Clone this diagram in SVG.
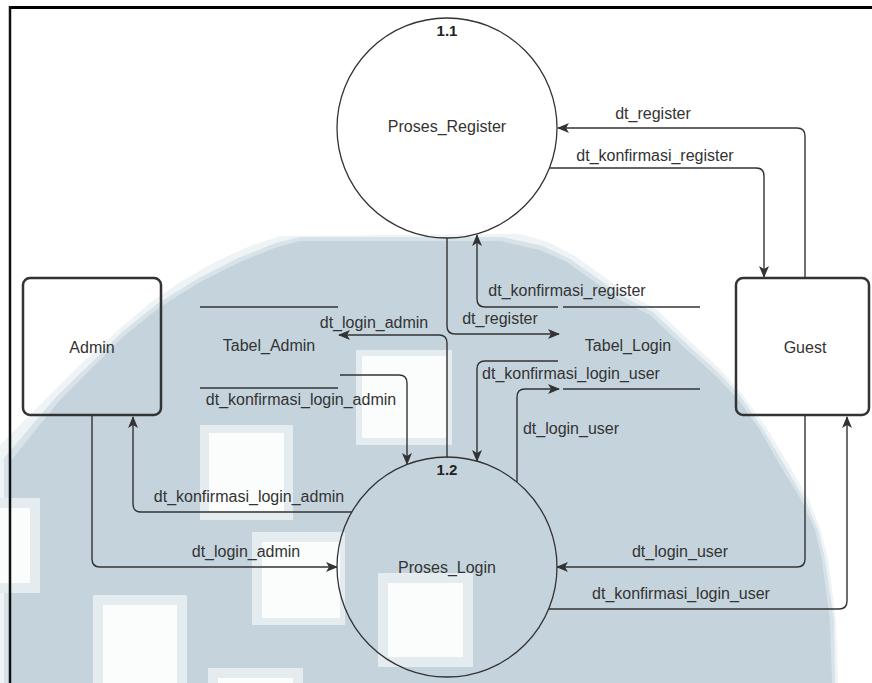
<svg xmlns="http://www.w3.org/2000/svg" width="872" height="683" viewBox="0 0 872 683">
<defs>
<style>
.t{font-family:"Liberation Sans",Arial,Helvetica,sans-serif;font-size:16px;fill:#333;text-anchor:middle}
.b{font-weight:bold;font-size:15px;fill:#222}
.c{fill:none;stroke:#333;stroke-width:1.3}
.e{fill:none;stroke:#333;stroke-width:2.5}
.p{fill:none;stroke:#333;stroke-width:1.4}
.ds{fill:none;stroke:#333;stroke-width:1.3}
.wo{fill:#e4ecf0}
.wi{fill:#fbfdfd}
</style>
<marker id="ah" viewBox="0 0 12 10" refX="11" refY="5" markerWidth="12" markerHeight="10" markerUnits="userSpaceOnUse" orient="auto">
<path d="M0,0 L12,5 L0,10 L3,5 z" fill="#333"/>
</marker>
</defs>
<rect width="872" height="683" fill="#ffffff"/>
<g id="watermark">
<polygon fill="#eef3f5" points="0,445 20,425 50,395 85,360 118,330 150,303 180,282 215,262 250,246 280,236 520,234 548,242 575,256 628,294 656,309 693,344 720,369 742,394 766,427 787,462 809,500 820,528 828,558 836,620 838,683 0,683"/>
<polygon fill="#d8e3e9" points="4,458 28,430 56,397 90,364 122,332 157,304 197,279 238,258 276,243 300,237 502,237 543,246 570,259 624,297 653,312 690,347 718,372 740,396 763,429 784,464 806,502 818,530 825,559 834,620 835,683 4,683"/>
<polygon fill="#c5d4dc" points="10,462 33,433 60,400 93,367 125,335 160,307 200,282 240,262 277,247 300,241 500,241 540,250 567,262 620,300 650,315 687,350 715,375 737,398 760,430 780,465 803,503 815,530 822,560 830,620 832,683 10,683"/>
<rect class="wo" x="356" y="350" width="96" height="95"/>
<rect class="wi" x="362" y="356" width="84" height="82"/>
<rect class="wo" x="200" y="425" width="93" height="95"/>
<rect class="wi" x="209" y="433" width="75" height="78"/>
<rect class="wo" x="252" y="532" width="93" height="93"/>
<rect class="wi" x="262" y="542" width="78" height="76"/>
<rect class="wo" x="93" y="595" width="94" height="88"/>
<rect class="wi" x="103" y="605" width="74" height="78"/>
<rect class="wo" x="208" y="668" width="95" height="15"/>
<rect class="wi" x="218" y="678" width="75" height="5"/>
<rect class="wo" x="0" y="498" width="40" height="95"/>
<rect class="wi" x="0" y="508" width="30" height="75"/>
<rect class="wo" x="378" y="573" width="95" height="94"/>
<rect class="wi" x="388" y="583" width="75" height="74"/>
</g>
<g id="frame">
<line x1="9" y1="7.5" x2="872" y2="7.5" stroke="#000" stroke-width="3"/>
<line x1="10" y1="6" x2="10" y2="683" stroke="#111" stroke-width="2.5"/>
</g>
<g id="connectors">
<path class="p" d="M805,278 V136 Q805,128 797,128 H558" marker-end="url(#ah)"/>
<path class="p" d="M550,168 H756 Q764,168 764,176 V277" marker-end="url(#ah)"/>
<path class="p" d="M447,238 V326 Q447,334 455,334 H559" marker-end="url(#ah)"/>
<path class="p" d="M558,307 H485 Q477,307 477,299 V235" marker-end="url(#ah)"/>
<path class="p" d="M558,361 H485 Q477,361 477,369 V461" marker-end="url(#ah)"/>
<path class="p" d="M517,482 V397 Q517,389 525,389 H559" marker-end="url(#ah)"/>
<path class="p" d="M447,458 V343 Q447,335 439,335 H339" marker-end="url(#ah)"/>
<path class="p" d="M340,375 H399 Q407,375 407,383 V464" marker-end="url(#ah)"/>
<path class="p" d="M92,416 V559 Q92,567 100,567 H337" marker-end="url(#ah)"/>
<path class="p" d="M352,512 H141 Q133,512 133,504 V417" marker-end="url(#ah)"/>
<path class="p" d="M805,416 V559 Q805,567 797,567 H557" marker-end="url(#ah)"/>
<path class="p" d="M549,609 H839 Q847,609 847,601 V417" marker-end="url(#ah)"/>
</g>
<g id="connector-labels">
<text class="t" x="653" y="119">dt_register</text>
<text class="t" x="655" y="161">dt_konfirmasi_register</text>
<text class="t" x="567" y="296">dt_konfirmasi_register</text>
<text class="t" x="500" y="324">dt_register</text>
<text class="t" x="571" y="379">dt_konfirmasi_login_user</text>
<text class="t" x="571" y="434">dt_login_user</text>
<text class="t" x="374" y="328">dt_login_admin</text>
<text class="t" x="301" y="405">dt_konfirmasi_login_admin</text>
<text class="t" x="249" y="502">dt_konfirmasi_login_admin</text>
<text class="t" x="246" y="557">dt_login_admin</text>
<text class="t" x="680" y="557">dt_login_user</text>
<text class="t" x="681" y="599">dt_konfirmasi_login_user</text>
</g>
<g id="proses-register">
<circle class="c" cx="447" cy="128" r="110"/>
<text class="t b" x="447" y="36">1.1</text>
<text class="t" x="447" y="132">Proses_Register</text>
</g>
<g id="proses-login">
<circle class="c" cx="447" cy="567" r="110"/>
<text class="t b" x="447" y="475">1.2</text>
<text class="t" x="447" y="573">Proses_Login</text>
</g>
<g id="admin">
<rect class="e" x="23" y="278" width="138" height="137" rx="7"/>
<text class="t" x="92" y="353">Admin</text>
</g>
<g id="guest">
<rect class="e" x="736" y="278" width="133" height="137" rx="7"/>
<text class="t" x="805" y="353">Guest</text>
</g>
<g id="tabel-admin">
<line class="ds" x1="200" y1="307" x2="338" y2="307"/>
<line class="ds" x1="200" y1="388" x2="338" y2="388"/>
<text class="t" x="269" y="351">Tabel_Admin</text>
</g>
<g id="tabel-login">
<line class="ds" x1="563" y1="307" x2="700" y2="307"/>
<line class="ds" x1="563" y1="389" x2="700" y2="389"/>
<text class="t" x="628" y="351">Tabel_Login</text>
</g>
</svg>
